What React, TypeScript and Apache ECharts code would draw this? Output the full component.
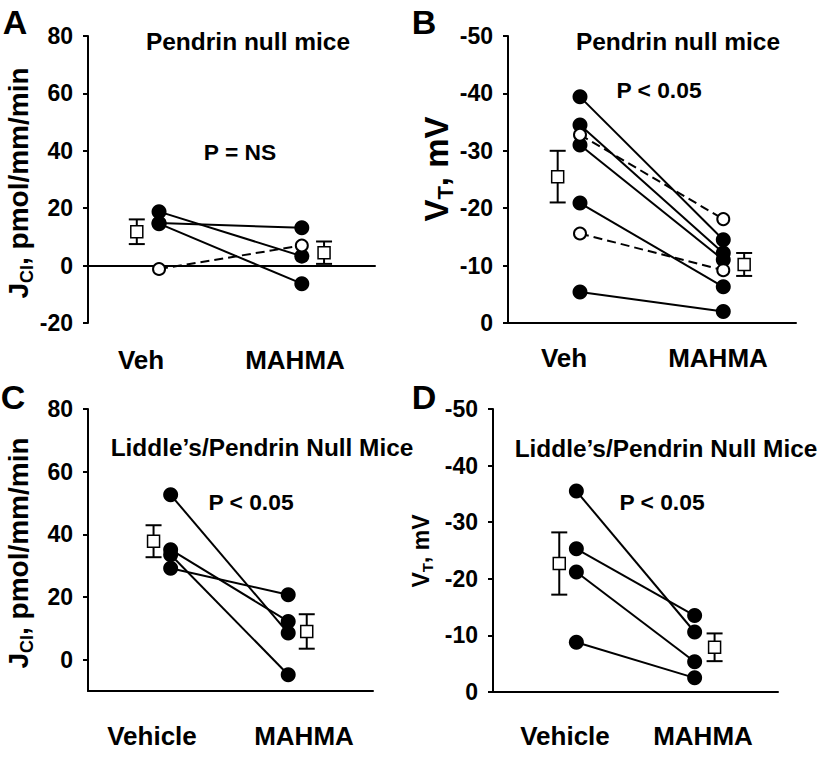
import React, { useEffect, useRef } from 'react';
import * as echarts from 'echarts';

const FONT = '"Liberation Sans", Arial, sans-serif';

// ---------- Panel A: J_Cl, Pendrin null mice ----------
const catA = ['Veh', 'MAHMA'];
const aVehFilled = [18.8, 14.8, 14.6];
const aMahmaFilled = [3.3, 13.2, -6.3];
const aVehOpen = [-1.2];
const aMahmaOpen = [7.0];
const aMean = [11.8, 4.5];
const aSem = [4.3, 3.9];
const aTicks = [-20, 0, 20, 40, 60, 80];

// ---------- Panel B: V_T, Pendrin null mice ----------
const catB = ['Veh', 'MAHMA'];
const bVehFilled = [-39.4, -34.5, -31.0, -20.9, -5.4];
const bMahmaFilled = [-14.5, -12.2, -11.0, -6.3, -2.0];
const bVehOpen = [-32.8, -15.6];
const bMahmaOpen = [-18.1, -9.2];
const bMean = [-25.5, -10.2];
const bSem = [4.5, 2.0];
const bTicks = [-50, -40, -30, -20, -10, 0];

// ---------- Panel C: J_Cl, Liddle's/Pendrin null mice ----------
const catC = ['Vehicle', 'MAHMA'];
const cVehFilled = [52.6, 35.1, 33.5, 29.2];
const cMahmaFilled = [8.5, 12.2, -4.8, 20.7];
const cMean = [37.8, 9.0];
const cSem = [5.1, 5.5];
const cTicks = [0, 20, 40, 60, 80];

// ---------- Panel D: V_T, Liddle's/Pendrin null mice ----------
const catD = ['Vehicle', 'MAHMA'];
const dVehFilled = [-35.5, -25.3, -21.2, -8.8];
const dMahmaFilled = [-10.6, -13.5, -5.35, -2.5];
const dMean = [-22.7, -7.9];
const dSem = [5.5, 2.45];
const dTicks = [-50, -40, -30, -20, -10, 0];

// layout (x positions on a 0..4 hidden value axis)
const LAYOUT = [
  { grid: { left: 88, top: 36, width: 287, height: 287 }, pts: [0.99, 2.98], sq: [0.68, 3.29], y: [-20, 80], inverse: false, onZero: true },
  { grid: { left: 508, top: 36, width: 288, height: 287 }, pts: [1.0, 2.99], sq: [0.69, 3.28], y: [-50, 0], inverse: true, onZero: false },
  { grid: { left: 88, top: 409, width: 285, height: 282 }, pts: [1.16, 2.81], sq: [0.92, 3.07], y: [-10, 80], inverse: false, onZero: false },
  { grid: { left: 493, top: 409, width: 285, height: 283 }, pts: [1.17, 2.83], sq: [0.93, 3.11], y: [-50, 0], inverse: true, onZero: false },
];

function pairSeries(idx: number, veh: number[], mah: number[], open: boolean) {
  const xs = LAYOUT[idx].pts;
  return veh.map((v, i) => ({
    type: 'line',
    xAxisIndex: idx,
    yAxisIndex: idx,
    data: [[xs[0], v], [xs[1], mah[i]]],
    symbol: 'circle',
    symbolSize: open ? 12 : 15,
    showSymbol: true,
    z: open ? 4 : 3,
    silent: true,
    lineStyle: { color: '#000', width: 2, type: open ? [9, 5] : 'solid' },
    itemStyle: open
      ? { color: '#fff', borderColor: '#000', borderWidth: 2 }
      : { color: '#000', borderColor: '#000', borderWidth: 0 },
  }));
}

function meanSeries(idx: number, means: number[], sems: number[]) {
  const xs = LAYOUT[idx].sq;
  return {
    type: 'custom',
    xAxisIndex: idx,
    yAxisIndex: idx,
    z: 5,
    silent: true,
    data: means.map((m, i) => [xs[i], m, sems[i]]),
    renderItem: (params: any, api: any) => {
      const x = api.value(0);
      const y = api.value(1);
      const e = api.value(2);
      const c = api.coord([x, y]);
      const t = api.coord([x, y + e]);
      const b = api.coord([x, y - e]);
      const st = { stroke: '#000', lineWidth: 2, fill: 'none' };
      return {
        type: 'group',
        children: [
          { type: 'line', shape: { x1: c[0], y1: t[1], x2: c[0], y2: b[1] }, style: st },
          { type: 'line', shape: { x1: c[0] - 8, y1: t[1], x2: c[0] + 8, y2: t[1] }, style: st },
          { type: 'line', shape: { x1: c[0] - 8, y1: b[1], x2: c[0] + 8, y2: b[1] }, style: st },
          { type: 'rect', shape: { x: c[0] - 6, y: c[1] - 6, width: 12, height: 12 }, style: { fill: '#fff', stroke: '#000', lineWidth: 1.5 } },
        ],
      };
    },
  };
}

function txt(x: number, y: number, text: string, size: number) {
  return {
    type: 'text',
    x,
    y,
    z: 10,
    silent: true,
    style: {
      text,
      fontSize: size,
      fontWeight: 'bold',
      fontFamily: FONT,
      fill: '#000',
      align: 'center',
      verticalAlign: 'middle',
    },
  };
}

function yTitle(x: number, y: number, main: string, sub: string, rest: string, size: number, subSize: number) {
  return {
    type: 'text',
    x,
    y,
    rotation: Math.PI / 2,
    z: 10,
    silent: true,
    style: {
      text: `{m|${main}}{s|${sub}}{m|${rest}}`,
      align: 'center',
      verticalAlign: 'middle',
      fill: '#000',
      rich: {
        m: { fontSize: size, fontWeight: 'bold', fontFamily: FONT, fill: '#000', lineHeight: size * 1.25 },
        s: { fontSize: subSize, fontWeight: 'bold', fontFamily: FONT, fill: '#000', lineHeight: subSize, verticalAlign: 'bottom' },
      },
    },
  };
}

export default function App() {
  const ref = useRef<HTMLDivElement>(null);

  useEffect(() => {
    if (!ref.current) return;
    const chart = echarts.init(ref.current, null, { renderer: 'svg' });
    const black = { color: '#000', width: 2 };
    const tickSets = [aTicks, bTicks, cTicks, dTicks];

    const option: any = {
      animation: false,
      backgroundColor: '#fff',
      grid: LAYOUT.map((l) => ({ ...l.grid, containLabel: false })),
      xAxis: LAYOUT.map((l, i) => ({
        type: 'value',
        gridIndex: i,
        min: 0,
        max: 4,
        axisLine: { show: true, onZero: l.onZero, lineStyle: black },
        axisTick: { show: false },
        axisLabel: { show: false },
        splitLine: { show: false },
      })),
      yAxis: LAYOUT.map((l, i) => ({
        type: 'value',
        gridIndex: i,
        min: l.y[0],
        max: l.y[1],
        inverse: l.inverse,
        axisLine: { show: true, onZero: false, lineStyle: black },
        axisTick: { show: true, inside: false, length: 5, lineStyle: black, customValues: tickSets[i] },
        axisLabel: {
          color: '#000',
          fontFamily: FONT,
          fontWeight: 'bold',
          fontSize: 23,
          margin: 15,
          customValues: tickSets[i],
        },
        splitLine: { show: false },
      })),
      series: [
        ...pairSeries(0, aVehFilled, aMahmaFilled, false),
        ...pairSeries(0, aVehOpen, aMahmaOpen, true),
        meanSeries(0, aMean, aSem),
        ...pairSeries(1, bVehFilled, bMahmaFilled, false),
        ...pairSeries(1, bVehOpen, bMahmaOpen, true),
        meanSeries(1, bMean, bSem),
        ...pairSeries(2, cVehFilled, cMahmaFilled, false),
        meanSeries(2, cMean, cSem),
        ...pairSeries(3, dVehFilled, dMahmaFilled, false),
        meanSeries(3, dMean, dSem),
      ],
      graphic: [
        // panel letters
        txt(15, 22, 'A', 34),
        txt(424, 22, 'B', 34),
        txt(13, 397, 'C', 34),
        txt(424, 397, 'D', 34),
        // titles
        txt(248, 41, 'Pendrin null mice', 24.5),
        txt(678, 41, 'Pendrin null mice', 24.5),
        txt(262, 447, 'Liddle\u2019s/Pendrin Null Mice', 24.4),
        txt(666, 448, 'Liddle\u2019s/Pendrin Null Mice', 24.4),
        // p values
        txt(240, 152, 'P = NS', 22.8),
        txt(659, 90, 'P < 0.05', 22.8),
        txt(251, 502, 'P < 0.05', 22.8),
        txt(662, 502, 'P < 0.05', 22.8),
        // category labels
        txt(141, 360, catA[0], 26),
        txt(295, 360, catA[1], 26),
        txt(564, 358, catB[0], 26),
        txt(718, 358, catB[1], 26),
        txt(152, 736, catC[0], 26),
        txt(304, 736, catC[1], 26),
        txt(565, 736, catD[0], 26),
        txt(703, 736, catD[1], 26),
        // y axis titles
        yTitle(18, 183, 'J', 'Cl', ', pmol/mm/min', 28, 18),
        yTitle(436, 169, 'V', 'T', ', mV', 33, 22),
        yTitle(18, 553, 'J', 'Cl', ', pmol/mm/min', 28, 18),
        yTitle(421, 551, 'V', 'T', ', mV', 23, 15),
      ],
    };

    chart.setOption(option);
    return () => chart.dispose();
  }, []);

  return (
    <div
      ref={ref}
      style={{ position: 'fixed', left: 0, top: 0, width: 822, height: 757, background: '#fff' }}
    />
  );
}
